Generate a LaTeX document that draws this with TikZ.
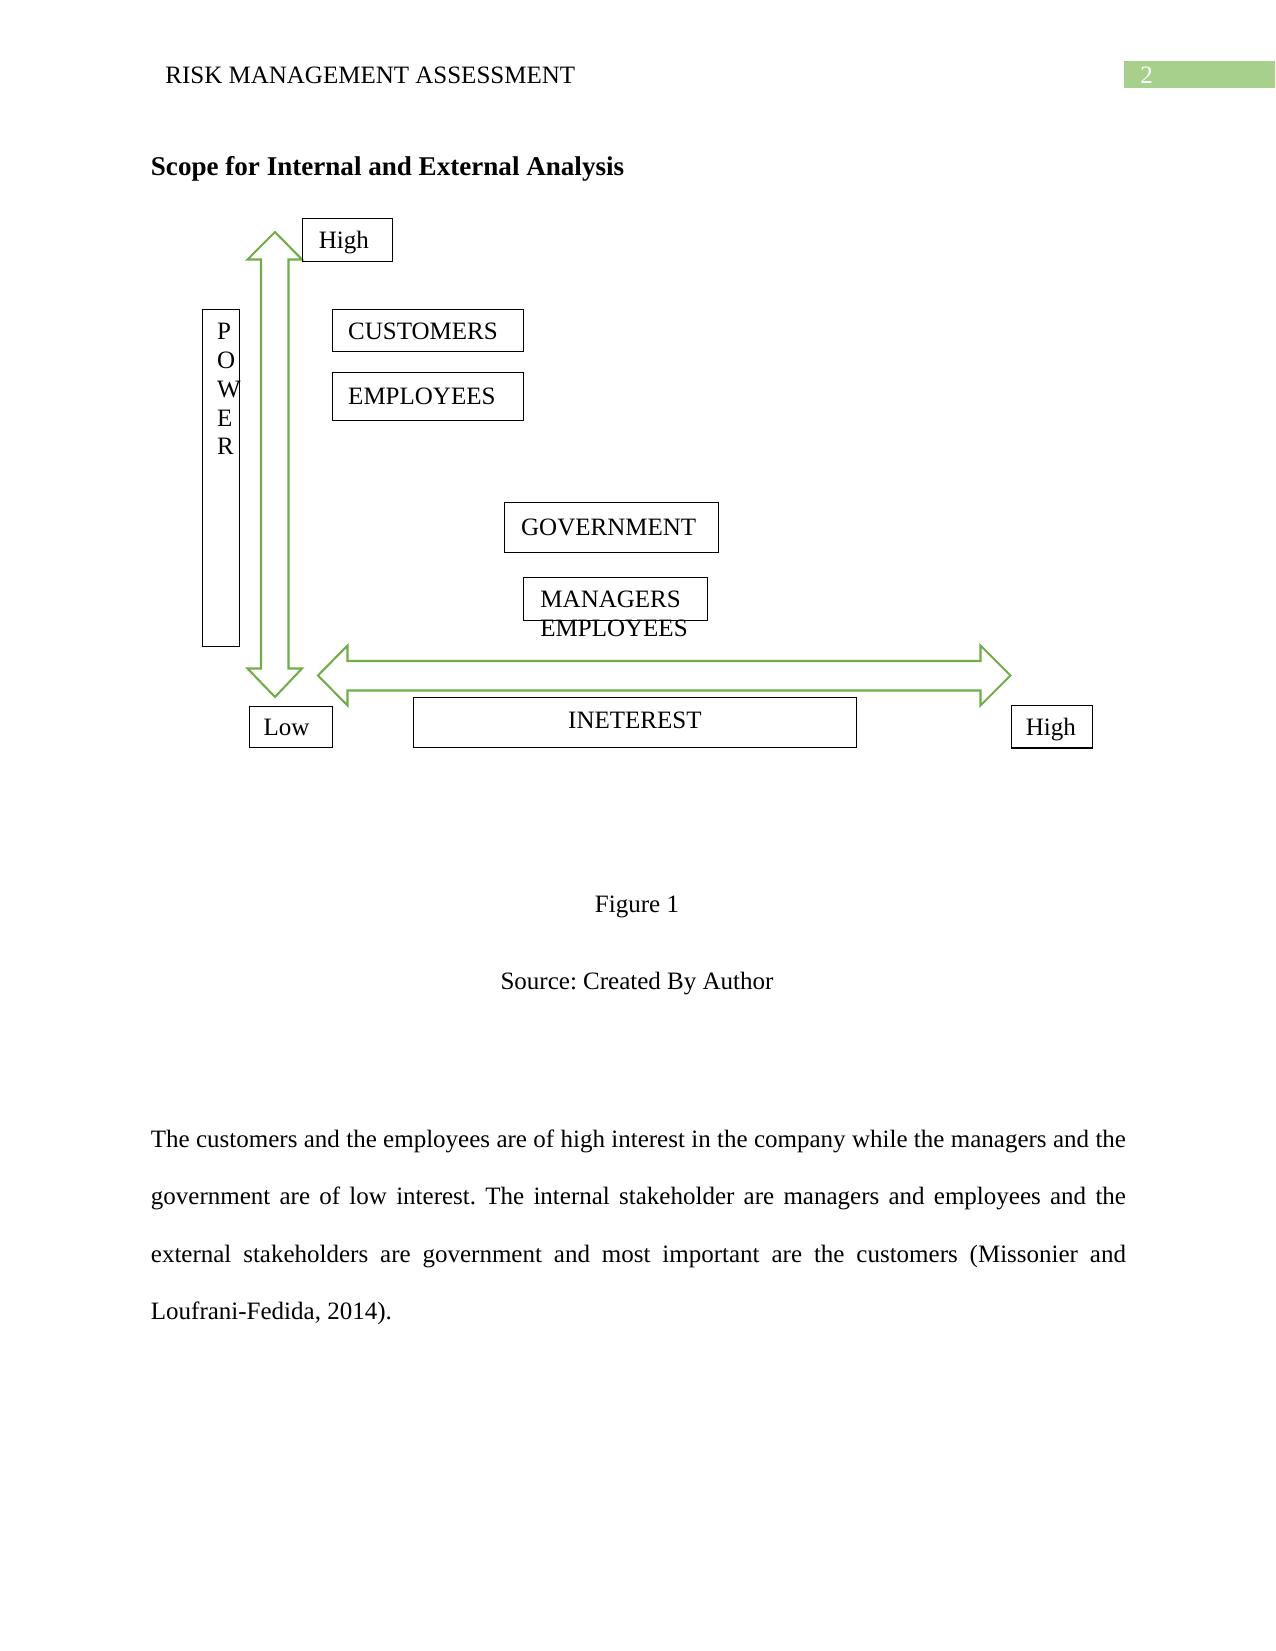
\documentclass[tikz,border=0pt]{standalone}
\usepackage{fontspec}
\setmainfont{Liberation Serif}
\frenchspacing
\definecolor{agreen}{HTML}{70AD47}
\definecolor{hgreen}{HTML}{A8D08D}
\tikzset{
  basetxt/.style={inner sep=0pt, font=\fontsize{12}{13.8}\selectfont},
  sbox/.style={basetxt, draw, line width=0.5pt, anchor=north west, align=left, text height=7.9pt, text depth=0pt},
  garrow/.style={draw=agreen, line width=1pt, fill=white, line join=miter},
}
\begin{document}
\begin{tikzpicture}[x=0.48pt,y=-0.48pt]
\useasboundingbox (0,0) rectangle (1275,1651);
% header
\fill[hgreen] (1124,61) rectangle (1275,88);
\node[basetxt, anchor=base west, text=white] (pg) at (1140,84) {2};
\node[basetxt, anchor=base west] (head) at (165,84) {RISK MANAGEMENT ASSESSMENT};
\node[basetxt, anchor=base west, font=\fontsize{13}{15}\selectfont\bfseries] (title) at (150.5,175.5) {Scope for Internal and External Analysis};
% arrows
\draw[garrow] (275,232) -- (302,259.5) -- (288.5,259.5) -- (288.5,668.5) -- (302,668.5) -- (275,697) -- (247.5,668.5) -- (261,668.5) -- (261,259.5) -- (247.5,259.5) -- cycle;
\draw[garrow] (318,675.5) -- (347.5,645.5) -- (347.5,661) -- (980.5,661) -- (980.5,645.5) -- (1010.5,675.5) -- (980.5,705.5) -- (980.5,690.5) -- (347.5,690.5) -- (347.5,705.5) -- cycle;
% boxes
\node[sbox, inner xsep=7.7pt, text width=27.5pt, minimum height=20.4pt] (hightop) at (302.3,218.3) {High};
\node[sbox, minimum width=18pt, minimum height=161.6pt] (powbox) at (201.7,309.3) {};
\node[basetxt, anchor=north west, align=left] (powtxt) at (216.7,323) {P\\O\\W\\E\\R};
\node[sbox, inner xsep=7.4pt, text width=76.9pt, minimum height=20.2pt] (cust) at (332.3,309.3) {CUSTOMERS};
\node[sbox, inner xsep=7.4pt, text width=76.9pt, minimum height=23.3pt] (emp) at (332.3,371.7) {EMPLOYEES};
\node[sbox, inner xsep=8pt, text width=86.6pt, minimum height=24.3pt] (gov) at (504,501.7) {GOVERNMENT};
\node[sbox, inner xsep=8pt, text width=72.3pt, minimum height=20.8pt] (mgr) at (523.3,576.7) {MANAGERS};
\node[basetxt, anchor=base west] (emp2) at (540,636.7) {EMPLOYEES};
\node[sbox, inner xsep=7pt, text width=25.9pt, minimum height=19.7pt] (low) at (248.5,706.4) {Low};
\node[sbox, align=center, text width=212.8pt, inner xsep=0pt, inner ysep=5.8pt, text height=9.2pt, text depth=3.5pt] (int) at (412.7,696.5) {INETEREST};
\node[sbox, inner xsep=7pt, text width=24.9pt, minimum height=20.2pt] (highr) at (1010.7,705.4) {High};
% captions
\node[basetxt, anchor=base] (fig) at (637,912) {Figure 1};
\node[basetxt, anchor=base] (src) at (637,989.6) {Source: Created By Author};
% paragraph
\node[basetxt, anchor=north west, align=left, font=\fontsize{12}{27.6}\selectfont] (para) at (150.5,1129.4) {%
\makebox[468pt][s]{The customers and the employees are of high interest in the company while the managers and the}\\
\makebox[468pt][s]{government are of low interest. The internal stakeholder are managers and employees and the}\\
\makebox[468pt][s]{external stakeholders are government and most important are the customers (Missonier and}\\
Loufrani-Fedida, 2014).};
\end{tikzpicture}
\end{document}
